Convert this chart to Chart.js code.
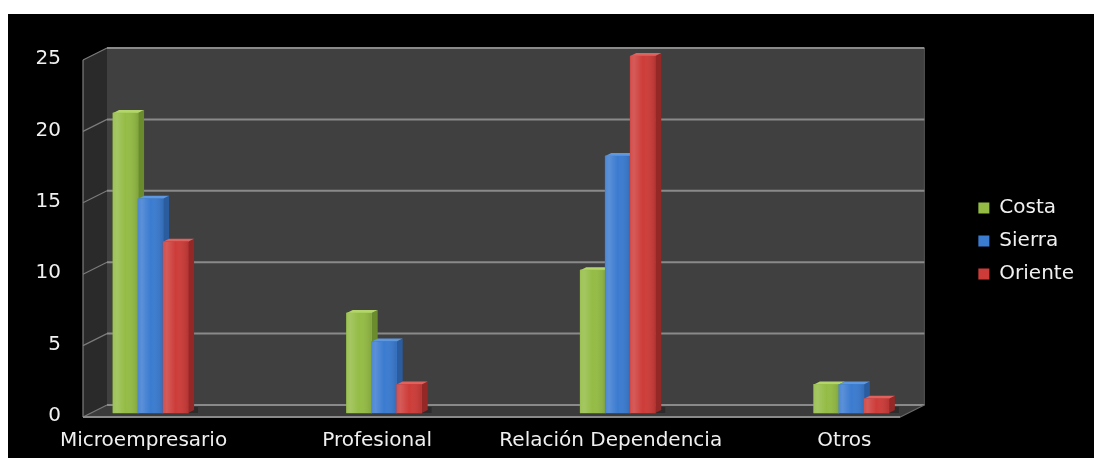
<!DOCTYPE html>
<html>
<head>
<meta charset="utf-8">
<script src="https://cdn.jsdelivr.net/npm/chart.js@4/dist/chart.umd.min.js"></script>
<style>
  html, body { margin: 0; background: #fff; }
  #wrap { position: absolute; left: 8px; top: 14px; width: 1086px; height: 444px; background: #000; }
  canvas { display: block; }
</style>
</head>
<body>
<div id="wrap"><canvas id="chart" width="1086" height="444"></canvas></div>
<script>
// ---- data ----
const categories = ["Microempresario", "Profesional", "Relación Dependencia", "Otros"];
const seriesNames = ["Costa", "Sierra", "Oriente"];
const costa = [21, 7, 10, 2];
const sierra = [15, 5, 18, 2];
const oriente = [12, 2, 25, 1];
const yTicks = [0, 5, 10, 15, 20, 25];

// front / side / top colours for each series
const fronts = ["#94bc45", "#3b7bd0", "#cd3c39"];
const sides  = ["#6a8c2d", "#2a5c9e", "#942826"];
const tops   = ["#b3d56b", "#5e98e0", "#e0625e"];

const FONT = "'DejaVu Sans', sans-serif";
const TEXT = "#f0f0f0";

// depth of the box (front edge -> back wall) and of one bar
const DX = 24, DY = -12;
const BDX = 6, BDY = -3;

function poly(ctx, pts, fill, stroke) {
    ctx.beginPath();
    ctx.moveTo(pts[0], pts[1]);
    for (let i = 2; i < pts.length; i += 2) ctx.lineTo(pts[i], pts[i + 1]);
    ctx.closePath();
    if (fill) { ctx.fillStyle = fill; ctx.fill(); }
    if (stroke) { ctx.strokeStyle = stroke; ctx.stroke(); }
}

function line(ctx, x1, y1, x2, y2, color, w) {
    ctx.beginPath();
    ctx.moveTo(x1, y1);
    ctx.lineTo(x2, y2);
    ctx.strokeStyle = color;
    ctx.lineWidth = w;
    ctx.stroke();
}

// ------------------------- WALLS + FLOOR -------------------------
const wallsPlugin = {
    id: "walls",
    beforeDatasetsDraw(chart) {
        const { ctx, chartArea: a, scales: { y } } = chart;
        const fx = -DX / 3, fy = -DY / 3;        // front plane
        const bx = DX * 2 / 3, by = DY * 2 / 3;  // back plane
        const top = y.getPixelForValue(y.max);
        const bot = y.getPixelForValue(0);

        ctx.save();
        // back wall
        ctx.fillStyle = "#404040";
        ctx.fillRect(a.left + bx, top + by, a.right - a.left, bot - top);
        line(ctx, a.right + bx, top + by, a.right + bx, bot + by, "#575757", 1);
        // side wall
        poly(ctx, [a.left + fx, top + fy, a.left + bx, top + by, a.left + bx, bot + by, a.left + fx, bot + fy], "#2a2a2a");
        // floor
        poly(ctx, [a.left + fx, bot + fy, a.left + bx, bot + by, a.right + bx, bot + by, a.right + fx, bot + fy], "#3b3b3b");

        // grid lines on back wall and side wall
        yTicks.forEach(t => {
            const p = y.getPixelForValue(t);
            line(ctx, a.left + bx, p + by, a.right + bx, p + by, "#8a8a8a", 2);
            line(ctx, a.left + fx, p + fy, a.left + bx, p + by, "#7c7c7c", 1.2);
        });
        // front edges
        line(ctx, a.left + fx, top + fy, a.left + fx, bot + fy, "#7c7c7c", 1.2);
        line(ctx, a.left + fx, bot + fy, a.right + fx, bot + fy, "#8a8a8a", 2);
        line(ctx, a.right + fx, bot + fy, a.right + bx, bot + by, "#6a6a6a", 1.2);
        ctx.restore();
    }
};

// ------------------------- 3D BAR FACES -------------------------
const barsPlugin = {
    id: "bars3d",
    afterDatasetsDraw(chart) {
        const ctx = chart.ctx;
        ctx.save();
        chart.data.datasets.forEach((ds, i) => {
            chart.getDatasetMeta(i).data.forEach(bar => {
                const { x, y, base, width } = bar.getProps(["x", "y", "base", "width"], true);
                const l = x - width / 2, r = x + width / 2;
                // shadow on the floor
                ctx.fillStyle = "rgba(0,0,0,0.25)";
                ctx.fillRect(r, base - 6, BDX + 4, 6);
                poly(ctx, [r, y, r + BDX, y + BDY, r + BDX, base + BDY, r, base], sides[i]);
                poly(ctx, [l, y, l + BDX, y + BDY, r + BDX, y + BDY, r, y], tops[i]);
                bar.draw(ctx);
                // soft shading across the front face
                const g = ctx.createLinearGradient(l, 0, r, 0);
                g.addColorStop(0, "rgba(255,255,255,0.10)");
                g.addColorStop(0.15, "rgba(255,255,255,0.16)");
                g.addColorStop(0.5, "rgba(255,255,255,0)");
                g.addColorStop(1, "rgba(0,0,0,0.12)");
                ctx.fillStyle = g;
                ctx.fillRect(l, y, width, base - y);
            });
        });
        ctx.restore();
    }
};

// lift the legend column a little above the canvas centre
const legendShift = {
    id: "legendShift",
    afterLayout(chart) {
        chart.legend.top -= 13;
        chart.legend.bottom -= 13;
    }
};

function makeSet(label, values, i) {
    return {
        label: label,
        data: values.map((v, k) => ({ x: k, y: v })),
        backgroundColor: fronts[i],
        borderColor: sides[i],
        borderWidth: 0,
        barThickness: 25
    };
}

new Chart(document.getElementById("chart"), {
    type: "bar",
    data: {
        datasets: [
            makeSet(seriesNames[0], costa, 0),
            makeSet(seriesNames[1], sierra, 1),
            makeSet(seriesNames[2], oriente, 2)
        ]
    },
    options: {
        responsive: false,
        animation: false,
        events: [],
        layout: { padding: { top: 36, right: 10, bottom: 0, left: 0 } },
        plugins: {
            tooltip: { enabled: false },
            legend: {
                position: "right",
                labels: {
                    color: TEXT,
                    font: { family: FONT, size: 20 },
                    boxWidth: 11,
                    boxHeight: 11,
                    padding: 13
                }
            }
        },
        scales: {
            x: {
                type: "linear",
                offset: false,
                min: -0.255,
                max: 3.244,
                grid: { display: false, drawTicks: false },
                border: { display: false },
                afterBuildTicks: s => { s.ticks = categories.map((c, k) => ({ value: k })); },
                afterFit: s => { s.height = 45; },
                ticks: {
                    autoSkip: false,
                    maxRotation: 0,
                    padding: 16,
                    labelOffset: -7,
                    color: TEXT,
                    font: { family: FONT, size: 20 },
                    callback: v => categories[v]
                }
            },
            y: {
                min: 0,
                max: 25,
                grid: { display: false, drawTicks: false },
                border: { display: false },
                afterBuildTicks: s => { s.ticks = yTicks.map(v => ({ value: v })); },
                afterFit: s => { s.width = 83; },
                ticks: {
                    padding: 30,
                    labelOffset: 3,
                    color: TEXT,
                    font: { family: FONT, size: 20 }
                }
            },
            gap: {
                type: "linear",
                position: "right",
                grid: { display: false, drawTicks: false },
                border: { display: false },
                ticks: { display: false },
                afterFit: s => { s.width = 57; }
            }
        }
    },
    plugins: [wallsPlugin, barsPlugin, legendShift]
});
</script>
</body>
</html>
